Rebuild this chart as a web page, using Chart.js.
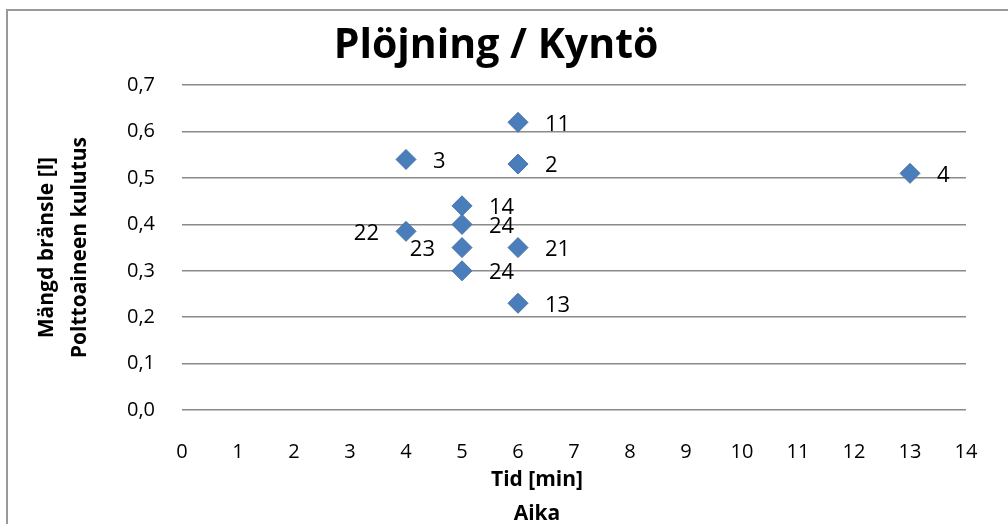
<!DOCTYPE html>
<html lang="sv">
<head>
<meta charset="UTF-8">
<title>Plöjning / Kyntö</title>
<script src="https://cdn.jsdelivr.net/npm/chart.js"></script>
<style>
    body { margin: 0; background: #fff; }
    #wrap { position: relative; width: 1008px; height: 524px; }
</style>
</head>
<body>
<div id="wrap"><canvas id="chart"></canvas></div>
<script>
// data
const timeMin = [6, 4, 6, 13, 5, 5, 4, 5, 6, 5, 6];
const fuelL   = [0.62, 0.54, 0.53, 0.51, 0.44, 0.40, 0.385, 0.35, 0.35, 0.30, 0.23];
const pointLabels = ['11', '3', '2', '4', '14', '24', '22', '23', '21', '24', '13'];
const xTitle = ['Tid [min]', 'Aika'];
const yTitle = ['Mängd bränsle [l]', 'Polttoaineen kulutus'];
const chartTitle = 'Plöjning / Kyntö';

const FONT = "'Open Sans', sans-serif";
// these two labels sit to the left of their marker
const leftSide = [6, 7];

const pointTags = {
    id: 'pointTags',
    afterDatasetsDraw(chart) {
        const ctx = chart.ctx;
        const meta = chart.getDatasetMeta(0);
        ctx.save();
        ctx.font = '22px ' + FONT;
        ctx.fillStyle = '#000';
        ctx.textBaseline = 'middle';
        meta.data.forEach((pt, i) => {
            const left = leftSide.includes(i);
            ctx.textAlign = left ? 'right' : 'left';
            ctx.fillText(pointLabels[i], pt.x + (left ? -27 : 27), pt.y + 2);
        });
        ctx.restore();
    }
};

// x axis title, Excel puts it a bit left of the plot centre
const xTitleText = {
    id: 'xTitleText',
    afterDraw(chart) {
        const ctx = chart.ctx;
        const xs = chart.scales.x;
        ctx.save();
        ctx.font = 'bold 21px ' + FONT;
        ctx.fillStyle = '#000';
        ctx.textAlign = 'center';
        ctx.textBaseline = 'middle';
        xTitle.forEach((t, i) => ctx.fillText(t, 537, xs.top + 70 + i * 34));
        ctx.restore();
    }
};

const frame = {
    id: 'frame',
    beforeDraw(chart) {
        const ctx = chart.ctx;
        ctx.save();
        ctx.strokeStyle = '#999';
        ctx.lineWidth = 2;
        ctx.strokeRect(7, 10, 1030, 540);
        ctx.restore();
    }
};

new Chart(document.getElementById('chart'), {
    type: 'scatter',
    data: {
        datasets: [{
            data: timeMin.map((x, i) => ({ x: x, y: fuelL[i] })),
            pointStyle: 'rectRot',
            pointRadius: 10,
            pointHoverRadius: 10,
            backgroundColor: '#4A7EBB',
            borderColor: '#4672A8',
            borderWidth: 1
        }]
    },
    options: {
        responsive: true,
        maintainAspectRatio: false,
        animation: false,
        layout: { padding: { left: 0, right: 16, top: 0, bottom: 0 } },
        plugins: {
            legend: { display: false },
            tooltip: { enabled: false },
            title: {
                display: true,
                text: chartTitle,
                color: '#000',
                font: { family: FONT, size: 41, weight: 'bold', lineHeight: 1.2 },
                padding: { top: 22, bottom: 14 }
            }
        },
        scales: {
            x: {
                type: 'linear',
                min: 0,
                max: 14,
                afterFit: s => { s.height = 114; },
                grid: { display: false },
                border: { display: false },
                ticks: {
                    stepSize: 1,
                    color: '#000',
                    padding: 22,
                    font: { family: FONT, size: 20 }
                }
            },
            y: {
                min: 0,
                max: 0.7,
                afterFit: s => { s.width = 182; },
                grid: { color: '#8a8a8a', lineWidth: 1.5, drawTicks: false },
                border: { display: false },
                ticks: {
                    stepSize: 0.1,
                    color: '#000',
                    padding: 27,
                    font: { family: FONT, size: 20 },
                    callback: v => v.toFixed(1).replace('.', ',')
                },
                title: {
                    display: true,
                    text: yTitle,
                    color: '#000',
                    font: { family: FONT, size: 21, weight: 'bold', lineHeight: 1.6 },
                    padding: { top: 30, bottom: 0 }
                }
            },
            // empty strip on the right so the plot ends where the reference does
            yRight: {
                position: 'right',
                afterFit: s => { s.width = 26; },
                grid: { display: false },
                border: { display: false },
                ticks: { display: false }
            }
        }
    },
    plugins: [frame, pointTags, xTitleText]
});
</script>
</body>
</html>
